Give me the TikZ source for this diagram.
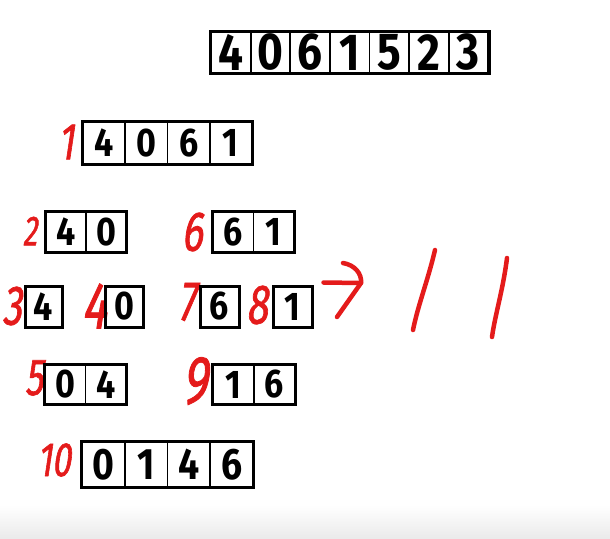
\documentclass[tikz,border=0pt]{standalone}
\usepackage{fontspec}
\usetikzlibrary{fit,positioning}
\newfontfamily\celldigits{Fira Sans}[FakeStretch=0.85]
\newfontfamily\handdigits{Fira Sans}[FakeStretch=0.7,FakeSlant=0.15,FakeBold=1.2]
\definecolor{penred}{HTML}{E41B1B}
\newcommand\handsz[1]{\handdigits\fontsize{#1}{#1}\selectfont}

\begin{document}
\begin{tikzpicture}[x=1pt,y=-1pt,
 cell/.style={draw,line width=1.8pt,inner sep=0pt,minimum height=41pt,
  font=\celldigits\bfseries\fontsize{40}{40}\selectfont},
 frame/.style={draw,line width=3pt,inner sep=0pt},
 stepno/.style={text=penred,inner sep=0pt,font=\handsz{56}},
 hand/.style={penred,line width=4.5pt,line cap=round,line join=round}]
\useasboundingbox (0,0) rectangle (610,538);
\shade[top color=white,bottom color=black!8] (0,505) rectangle (610,538);
% the whole array
\foreach \d [count=\i] in {4,0,6,1,5,2,3}
 \node[cell,minimum width=39.6pt,font=\celldigits\bfseries\fontsize{52}{52}\selectfont]
  (top-\i) at ({230.8+(\i-1)*39.6},52.5) {\d};
\node[frame,fit=(top-1)(top-7)] (top) {};
% step 1
\node[stepno,font=\handsz{52}] (n1) at (66,142) {1};
\foreach \d [count=\i] in {4,0,6,1}
 \node[cell,minimum width=42.25pt,minimum height=42pt] (p1-\i) at ({104.1+(\i-1)*42.25},143) {\d};
\node[frame,fit=(p1-1)(p1-4)] (p1) {};
% steps 2 and 6
\node[stepno,font=\handsz{42}] (n2) at (30,231) {2};
\foreach \d [count=\i] in {4,0}
 \node[cell,minimum width=40pt,minimum height=40pt] (p2-\i) at ({66+(\i-1)*40},232) {\d};
\node[frame,fit=(p2-1)(p2-2)] (p2) {};
\node[stepno] (n6) at (192,232) {6};
\foreach \d [count=\i] in {6,1}
 \node[cell,minimum width=40.5pt,minimum height=40pt] (p6-\i) at ({233.2+(\i-1)*40.5},232) {\d};
\node[frame,fit=(p6-1)(p6-2)] (p6) {};
% steps 3, 4, 7 and 8
\node[stepno,font=\handsz{56}] (n3) at (12,306) {3};
\node[cell,frame,minimum width=37pt] (p3) at (43.5,306.5) {4};
\node[stepno,font=\handsz{66}] (n4) at (94,306) {4};
\node[cell,frame,minimum width=38pt] (p4) at (124,306.5) {0};
\node[stepno] (n7) at (187,302) {7};
\node[cell,frame,minimum width=39pt] (p7) at (219.5,306.5) {6};
\node[stepno] (n8) at (257,305) {8};
\node[cell,frame,minimum width=39pt] (p8) at (292.5,306.5) {1};
\coordinate (tip) at (361,283);
\draw[hand] ([xshift=10pt,yshift=24pt]p8.east) -- (tip);
\draw[hand] (343,263) .. controls (355,265) and (362,274) .. (tip) -- (337,317);
\draw[hand] (435,250) .. controls (428,280) and (418,305) .. (413,330);
\draw[hand] (507,258) .. controls (503,290) and (495,315) .. (492,337);
% steps 5 and 9
\node[stepno,font=\handsz{52}] (n5) at (34,378) {5};
\foreach \d [count=\i] in {0,4}
 \node[cell,minimum width=40.5pt,minimum height=39pt] (p5-\i) at ({65.2+(\i-1)*40.5},384.5) {\d};
\node[frame,fit=(p5-1)(p5-2)] (p5) {};
\node[stepno,font=\handsz{68}] (n9) at (195,381) {9};
\foreach \d [count=\i] in {1,6}
 \node[cell,minimum width=41pt,minimum height=39pt] (p9-\i) at ({233.5+(\i-1)*41},384.5) {\d};
\node[frame,fit=(p9-1)(p9-2)] (p9) {};
% step 10
\node[stepno,font=\handsz{48}] (n10) at (54,460) {10};
\foreach \d [count=\i] in {0,1,4,6}
 \node[cell,minimum width=42.75pt,minimum height=44pt,font=\celldigits\bfseries\fontsize{44}{44}\selectfont]
  (p10-\i) at ({103.4+(\i-1)*42.75},464.5) {\d};
\node[frame,fit=(p10-1)(p10-4)] (p10) {};
\end{tikzpicture}
\end{document}
